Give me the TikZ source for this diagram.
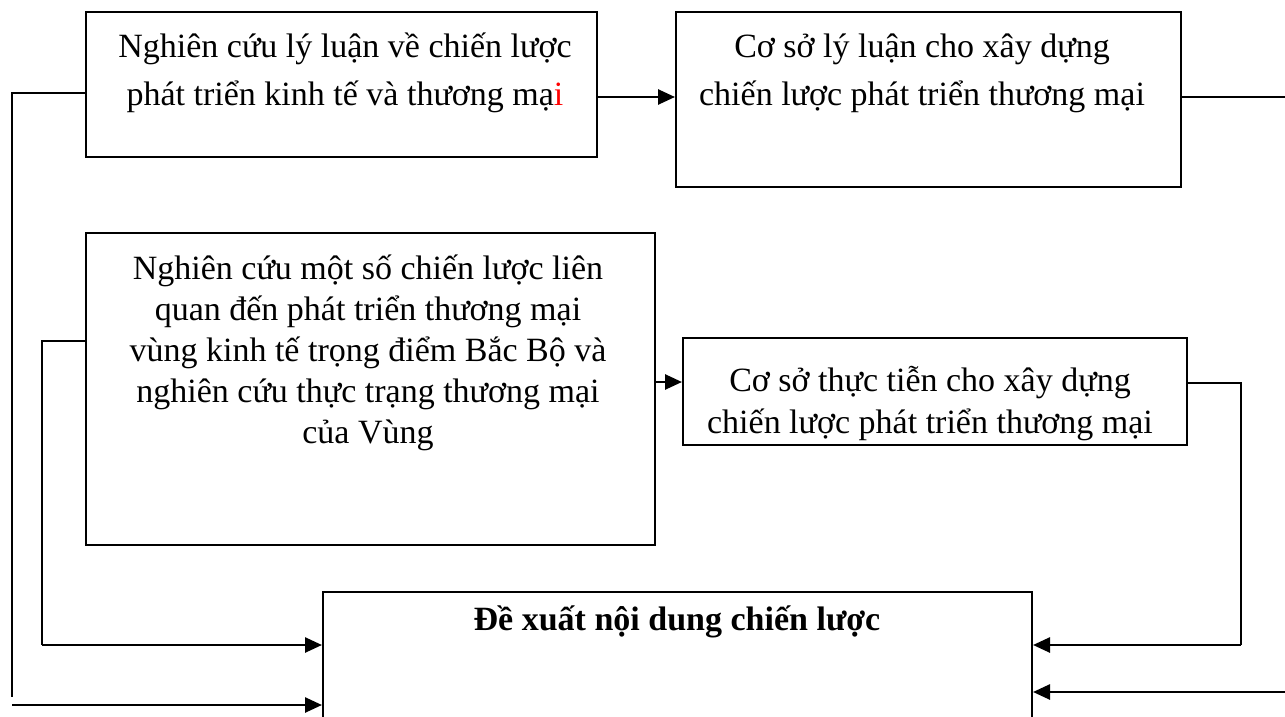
\documentclass[tikz,border=0pt]{standalone}
\usepackage{xcolor}
\usepackage{fontspec}
\setmainfont{Liberation Serif}
\usetikzlibrary{arrows.meta, positioning}

\begin{document}
\begin{tikzpicture}[x=1pt, y=-1pt,
  box/.style={draw, line width=2pt, rectangle, inner sep=0pt},
  boxtext/.style={align=center, anchor=north, inner sep=0pt},
  link/.style={line width=2.6pt},
  arr/.style={line width=2.6pt, -{Triangle[length=17pt, width=15pt]}}]
  \useasboundingbox (0,0) rectangle (1285,717);

  % Boxes
  \node[box, minimum width=511pt, minimum height=145pt] (lyluan) at (341.5,84.5) {};
  \node[box, minimum width=505pt, minimum height=175pt] (cosolyluan) at (928.5,99.5) {};
  \node[box, minimum width=569pt, minimum height=312pt] (thuctrang) at (370.5,389) {};
  \node[box, minimum width=504pt, minimum height=107pt] (cosothuctien) at (935,391.5) {};
  \node[box, minimum width=709pt, minimum height=168pt] (dexuat) at (677.5,676) {};

  % Texts
  \node[boxtext, font=\fontsize{34}{48}\selectfont] (lyluan text) at (345,24)
    {\strut Nghiên cứu lý luận về chiến lược\\ phát triển kinh tế và thương mạ\textcolor{red}{i}};
  \node[boxtext, font=\fontsize{34}{48}\selectfont] (cosolyluan text) at (922,24)
    {\strut Cơ sở lý luận cho xây dựng\\ chiến lược phát triển thương mại};
  \node[boxtext, font=\fontsize{34}{41}\selectfont] (thuctrang text) at (368,251)
    {\strut Nghiên cứu một số chiến lược liên\\ quan đến phát triển thương mại\\
     vùng kinh tế trọng điểm Bắc Bộ và\\ nghiên cứu thực trạng thương mại\\ của Vùng};
  \node[boxtext, font=\fontsize{34}{42}\selectfont] (cosothuctien text) at (930,362)
    {\strut Cơ sở thực tiễn cho xây dựng\\ chiến lược phát triển thương mại};
  \node[anchor=base, inner sep=0pt, font=\fontsize{34}{41}\selectfont\bfseries] (dexuat text) at (677,630)
    {Đề xuất nội dung chiến lược};

  % Free ends of the outer lines
  \coordinate (left outer) at (12,93);
  \coordinate (left inner) at (42,341);
  \coordinate (right outer) at (1295,97);
  \coordinate (right inner) at (1241,383);

  % Arrows between boxes
  \draw[arr] (lyluan.east |- 0,97) -- (cosolyluan.west |- 0,97);
  \draw[arr] (thuctrang.east |- 0,382) -- (cosothuctien.west |- 0,382);

  % Left side
  \draw[link] (lyluan.west |- left outer) -- (left outer) -- (12,697);
  \draw[arr] (12,705) -- (dexuat.west |- 0,705);
  \draw[link] (thuctrang.west |- left inner) -- (left inner) -- (42,645);
  \draw[arr] (42,645) -- (dexuat.west |- 0,645);

  % Right side
  \draw[link] (cosolyluan.east |- right outer) -- (right outer);
  \draw[arr] (1295,692) -- (dexuat.east |- 0,692);
  \draw[link] (cosothuctien.east |- right inner) -- (right inner) -- (1241,645);
  \draw[arr] (1241,645) -- (dexuat.east |- 0,645);
\end{tikzpicture}
\end{document}
